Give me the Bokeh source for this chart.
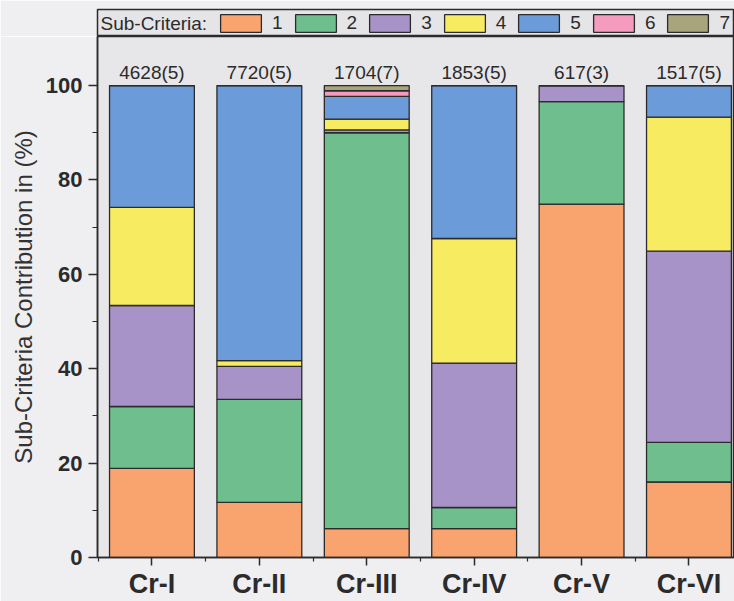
from bokeh.plotting import figure
from bokeh.layouts import column
from bokeh.models import ColumnDataSource, Legend, LegendItem, Label, FixedTicker
from bokeh.embed import file_html
from bokeh.resources import INLINE
from bokeh.core.properties import value

criteria = ["Cr-I", "Cr-II", "Cr-III", "Cr-IV", "Cr-V", "Cr-VI"]
counts = ["4628(5)", "7720(5)", "1704(7)", "1853(5)", "617(3)", "1517(5)"]
sub_names = ["1", "2", "3", "4", "5", "6", "7"]
s1 = [18.9, 11.7, 6.1, 6.1, 74.9, 16.0]
s2 = [13.1, 21.8, 83.9, 4.5, 21.7, 8.4]
s3 = [21.4, 7.0, 0.6, 30.6, 3.4, 40.5]
s4 = [20.8, 1.2, 2.3, 26.4, 0.0, 28.4]
s5 = [25.8, 58.3, 4.8, 32.4, 0.0, 6.7]
s6 = [0.0, 0.0, 1.2, 0.0, 0.0, 0.0]
s7 = [0.0, 0.0, 1.1, 0.0, 0.0, 0.0]
colors = ["#F9A46F", "#6FBF8E", "#A893C8", "#F7EB62", "#6C9BD9", "#F59BBE", "#A8A47C"]
legend_title = "Sub-Criteria:"

xs = list(range(1, len(criteria) + 1))
series = [s1, s2, s3, s4, s5, s6, s7]
data = {"x": xs, "counts": counts, "top": [sum(v) for v in zip(*series)]}
for name, s in zip(sub_names, series):
    data[name] = s
source = ColumnDataSource(data)

FONT = "Liberation Sans"
INK = "#2b2b2b"
BORDER_BG = "#efeef1"

# ---------------- legend strip (boxed, above the frame) ----------------
leg = figure(width=734, height=36, x_range=(0, 637), y_range=(0, 27),
             output_backend="svg", toolbar_location=None,
             x_axis_location=None, y_axis_location=None,
             min_border_left=97, min_border_right=0, min_border_top=9, min_border_bottom=0)
leg.grid.visible = False
leg.background_fill_color = "#e5e4e7"
leg.border_fill_color = BORDER_BG
leg.outline_line_color = INK
leg.outline_line_width = 1.5
leg.add_layout(Label(x=3, y=13, text=legend_title, text_baseline="middle",
                     text_font=FONT, text_font_size="19px", text_color=INK))
# swatch renderers: one bar each, placed outside the visible range (legend glyphs only)
leg_renderers = [leg.vbar(x=[-1000], top=[1], width=1, fill_color=c, line_color=INK,
                          line_width=1.3) for c in colors]
items = [LegendItem(label=n, renderers=[r]) for n, r in zip(sub_names, leg_renderers)]
legend = Legend(items=items, orientation="horizontal", location=(116, 0),
                glyph_width=51, glyph_height=22, label_standoff=6, spacing=7,
                padding=2, margin=0, label_height=22, label_width=0,
                label_text_font=FONT, label_text_font_size="19px", label_text_color=INK,
                border_line_alpha=0, background_fill_alpha=0)
leg.add_layout(legend, "center")

# ---------------- main chart ----------------
p = figure(width=734, height=565, x_range=(0.493, 6.424), y_range=(0, 110.4),
           output_backend="svg", toolbar_location=None,
           min_border_left=97, min_border_top=0, min_border_bottom=44, min_border_right=0)
p.background_fill_color = "#e7e6e9"
p.border_fill_color = BORDER_BG
p.outline_line_color = INK
p.outline_line_width = 1.5
p.grid.visible = False

p.vbar_stack(sub_names, x="x", width=0.79, source=source, color=colors,
             line_color=INK, line_width=1.3)

p.text(x="x", y="top", text="counts", source=source, y_offset=-3,
       text_align="center", text_baseline="bottom", text_font=value(FONT),
       text_font_size="19px", text_color=INK)

xa = p.xaxis[0]
xa.ticker = FixedTicker(ticks=xs, minor_ticks=[x + 0.5 for x in [0] + xs])
xa.major_label_overrides = {x: c for x, c in zip(xs, criteria)}
xa.major_label_text_font = FONT
xa.major_label_text_font_style = "bold"
xa.major_label_text_font_size = "27px"
xa.major_label_text_color = INK
xa.major_label_standoff = 3
xa.major_tick_in = 0
xa.major_tick_out = 8
xa.minor_tick_in = 0
xa.minor_tick_out = 4
for a in (xa, p.yaxis[0]):
    a.axis_line_width = 1.5
    a.axis_line_color = INK
    a.major_tick_line_color = INK
    a.minor_tick_line_color = INK
    a.major_tick_line_width = 1.5
    a.minor_tick_line_width = 1.2

ya = p.yaxis[0]
ya.ticker = FixedTicker(ticks=[0, 20, 40, 60, 80, 100], minor_ticks=[10, 30, 50, 70, 90])
ya.major_label_text_font = FONT
ya.major_label_text_font_style = "bold"
ya.major_label_text_font_size = "22px"
ya.major_label_text_color = INK
ya.major_label_standoff = 6
ya.major_tick_in = 0
ya.major_tick_out = 9
ya.minor_tick_in = 0
ya.minor_tick_out = 5
ya.axis_label = "Sub-Criteria Contribution in (%)"
ya.axis_label_text_font = FONT
ya.axis_label_text_font_style = "normal"
ya.axis_label_text_font_size = "24px"
ya.axis_label_text_color = "#333333"
ya.axis_label_standoff = 6

layout = column(leg, p, spacing=0)
open("out.html", "w").write(file_html(layout, INLINE))
